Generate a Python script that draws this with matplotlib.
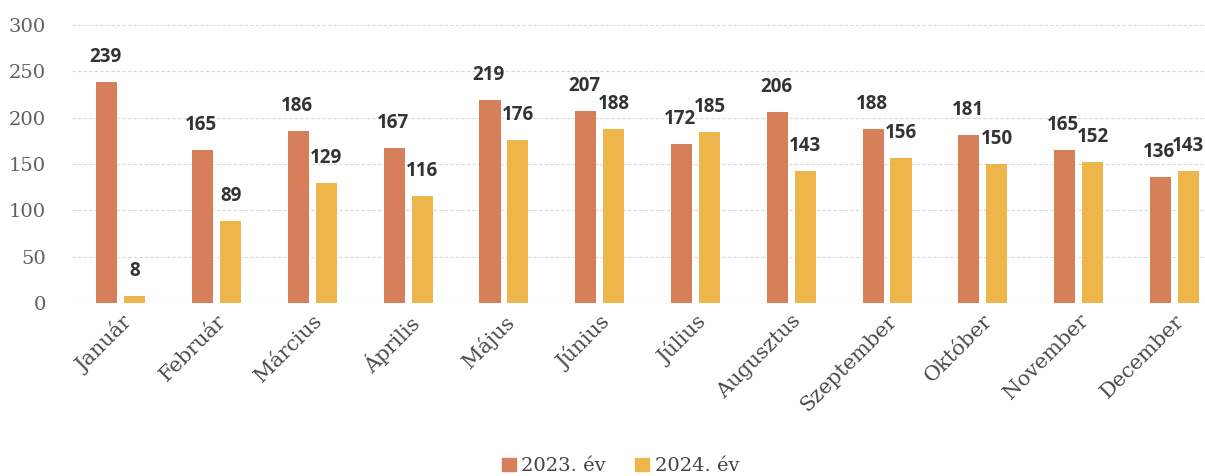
import matplotlib.pyplot as plt
from matplotlib.patches import Patch
import numpy as np

months = ['Január', 'Február', 'Március', 'Április', 'Május', 'Június',
          'Július', 'Augusztus', 'Szeptember', 'Október', 'November', 'December']
y2023 = [239, 165, 186, 167, 219, 207, 172, 206, 188, 181, 165, 136]
y2024 = [8, 89, 129, 116, 176, 188, 185, 143, 156, 150, 152, 143]
series_names = ['2023. év', '2024. év']

c23 = '#D5805A'
c24 = '#EDB54A'
serif = ['DejaVu Serif']
sans = ['Open Sans', 'DejaVu Sans']

fig = plt.figure(figsize=(12.05, 4.76), dpi=100)
ax = fig.add_axes([0.0598, 0.3634, 0.9402, 0.584])

x = np.arange(len(months))
w = 0.22
off = 0.146
b1 = ax.bar(x - off, y2023, w, color=c23, zorder=3)
b2 = ax.bar(x + off, y2024, w, color=c24, zorder=3)

for bars, vals, dx in ((b1, y2023, -1), (b2, y2024, 0)):
    for r, v in zip(bars, vals):
        ax.annotate(str(v), (r.get_x() + r.get_width() / 2, v), xytext=(dx, 18),
                    textcoords='offset points', ha='center', va='center',
                    fontsize=13.5, fontweight='bold', color='#333333', family=sans)

ax.set_ylim(0, 300)
ax.set_xlim(-0.51, 11.32)
ax.set_yticks(range(0, 301, 50))
ax.yaxis.grid(True, color='#d8d8d8', linestyle=(0, (3, 2)), linewidth=0.8, zorder=0)
for s in ax.spines.values():
    s.set_visible(False)
ax.tick_params(length=0)
ax.tick_params(axis='y', pad=19)
for lab in ax.get_yticklabels():
    lab.set_fontfamily(serif)
    lab.set_fontsize(14)
    lab.set_color('#606060')

ax.set_xticks(x)
ax.set_xticklabels(months, rotation=45, ha='right', rotation_mode='anchor',
                   fontsize=15, color='#4a4a4a', family=serif)
ax.tick_params(axis='x', pad=6)

handles = [Patch(color=c23), Patch(color=c24)]
fig.legend(handles, series_names, loc='lower center', bbox_to_anchor=(0.515, -0.035),
           ncol=2, frameon=False, prop={'family': serif, 'size': 14},
           handlelength=0.7, handleheight=0.7, handletextpad=0.3, columnspacing=1.5,
           labelcolor='#444444')

fig.savefig('out.png', dpi=100)
